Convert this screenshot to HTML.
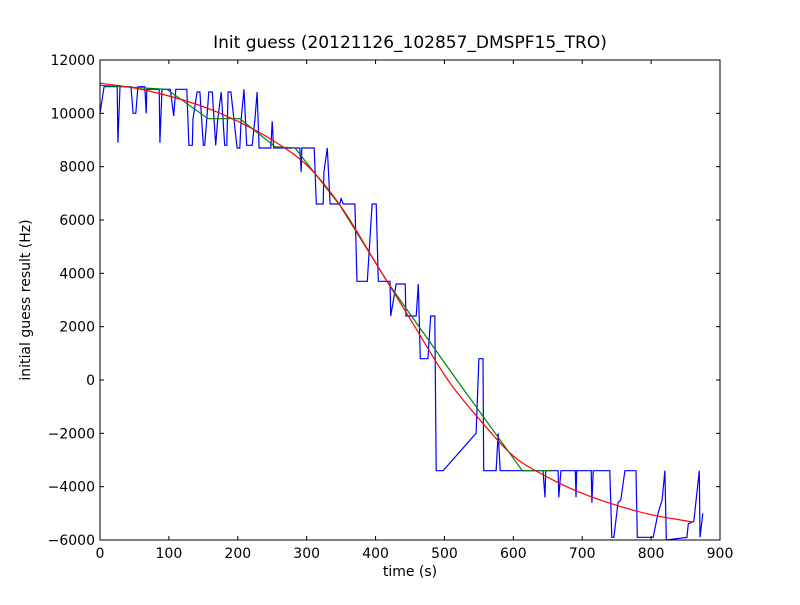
<!DOCTYPE html>
<html><head><meta charset="utf-8"><style>
body{margin:0;background:#fff}
svg text{font-family:"DejaVu Sans","Liberation Sans",sans-serif;fill:#000}
</style></head><body>
<svg id="chart" width="800" height="600" viewBox="0 0 800 600" xmlns="http://www.w3.org/2000/svg">
<rect width="800" height="600" fill="#fff"/>
<text x="410" y="48" font-size="17" text-anchor="middle">Init guess (20121126_102857_DMSPF15_TRO)</text>
<text x="410" y="576" font-size="14" text-anchor="middle">time (s)</text>
<text transform="translate(30,300) rotate(-90)" font-size="14" text-anchor="middle">initial guess result (Hz)</text>
<g id="plot"></g>
</svg>
<script>
const xTicks=[0,100,200,300,400,500,600,700,800,900];
const yTicks=[-6000,-4000,-2000,0,2000,4000,6000,8000,10000,12000];
const blueT=[0,6,25,26,29,45,48,52,55,65,67,68,86,87,90,102,107,110,126,129,134,135,141,145,150,152,155,158,163,168,171,176,181,184,186,190,199,203,205,209,213,221,225,228,231,248,250,252,290,292,293,311,314,324,325,330,334,348,350,353,370,373,388,395,401,404,421,422,430,443,444,459,462,465,476,480,486,488,498,546,550,556,557,575,578,581,643,646,647,665,666,669,690,691,692,713,714,716,740,743,746,752,756,762,778,780,803,810,816,820,822,852,854,862,870,871,875];
const blueHz=[10000,11000,11000,8900,11000,11000,10000,10000,11000,11000,10000,10900,10900,8900,10900,10900,9900,10900,10900,8800,8800,9800,10800,10800,8800,8800,9800,10800,10800,8800,9800,10800,8800,8800,10800,10800,8700,8700,9800,10900,8800,8800,9800,10800,8700,8700,9700,8700,8700,7800,8700,8700,6600,6600,7800,8700,6600,6600,6800,6600,6600,3700,3700,6600,6600,3700,3700,2400,3600,3600,2400,2400,3600,800,800,2400,2400,-3400,-3400,-2000,800,800,-3400,-3400,-2000,-3400,-3400,-4400,-3400,-3400,-4400,-3400,-3400,-4400,-3400,-3400,-4600,-3400,-3400,-5900,-5900,-4600,-4500,-3400,-3400,-5900,-5900,-5000,-4500,-3400,-6000,-5900,-5400,-5300,-3400,-5900,-5000];
const greenT=[0,97,157,203,254,283,348,418,518,613,655];
const greenHz=[11050,10900,9800,9800,8750,8700,6560,3640,0,-3400,-3400];
const redT=[0,50,100,150,200,250,300,350,400,450,505,550,600,650,700,750,800,861];
const redHz=[11130,10950,10650,10250,9700,9000,8060,6500,4400,2300,0,-1450,-2850,-3650,-4250,-4700,-5050,-5330];

const X0=100,X1=720,Y0=540,Y1=60;
const sx=v=>X0+(v-0)/900*(X1-X0);
const sy=v=>Y0-(v+6000)/18000*(Y0-Y1);
const NS="http://www.w3.org/2000/svg";
const g=document.getElementById('plot');
function mk(tag,attrs){const e=document.createElementNS(NS,tag);for(const k in attrs)e.setAttribute(k,attrs[k]);g.appendChild(e);return e;}

const clip=document.createElementNS(NS,'clipPath');clip.setAttribute('id','pc');
const cr=document.createElementNS(NS,'rect');cr.setAttribute('x',X0);cr.setAttribute('y',Y1);cr.setAttribute('width',X1-X0);cr.setAttribute('height',Y0-Y1);
clip.appendChild(cr);g.appendChild(clip);

function line(ts,vs,color,name){
  const n=Math.min(ts.length,vs.length);
  let d='';
  for(let i=0;i<n;i++)d+=(i?'L':'M')+sx(ts[i]).toFixed(1)+','+sy(vs[i]).toFixed(1);
  const p=mk('path',{d:d,fill:'none',stroke:color,'stroke-width':1.2,'clip-path':'url(#pc)'});
  
  
}
function smooth(ts,vs,color,name){
  const n=ts.length,m=[];
  for(let i=0;i<n;i++){const a=Math.max(0,i-1),b=Math.min(n-1,i+1);m.push((vs[b]-vs[a])/(ts[b]-ts[a]));}
  let d='M'+sx(ts[0]).toFixed(1)+','+sy(vs[0]).toFixed(1);
  for(let i=0;i<n-1;i++){const h=ts[i+1]-ts[i];
    d+='C'+sx(ts[i]+h/3).toFixed(1)+','+sy(vs[i]+m[i]*h/3).toFixed(1)+' '+sx(ts[i+1]-h/3).toFixed(1)+','+sy(vs[i+1]-m[i+1]*h/3).toFixed(1)+' '+sx(ts[i+1]).toFixed(1)+','+sy(vs[i+1]).toFixed(1);}
  const p=mk('path',{d:d,fill:'none',stroke:color,'stroke-width':1.2,'clip-path':'url(#pc)'});
  
  
}
line(blueT,blueHz,'#0000ff','raw-guess-line');
line(greenT,greenHz,'#008000','smoothed-line');
smooth(redT,redHz,'#ff0000','fit-curve');

const fr=mk('rect',{x:X0,y:Y1,width:X1-X0,height:Y0-Y1,fill:'none',stroke:'#000','stroke-width':1});



xTicks.forEach(v=>{const x=sx(v);
  mk('line',{x1:x,y1:Y0,x2:x,y2:Y0-4,stroke:'#000'});
  mk('line',{x1:x,y1:Y1,x2:x,y2:Y1+4,stroke:'#000'});
  const t=mk('text',{x:x,y:Y0+18,'font-size':14,'text-anchor':'middle'});t.textContent=v;
  
  
});
yTicks.forEach(v=>{const y=sy(v);
  mk('line',{x1:X0,y1:y,x2:X0+4,y2:y,stroke:'#000'});
  mk('line',{x1:X1,y1:y,x2:X1-4,y2:y,stroke:'#000'});
  const t=mk('text',{x:X0-5,y:y+5,'font-size':14,'text-anchor':'end'});t.textContent=v<0?'\u2212'+(-v):v;
  
  
});
</script>
</body></html>
